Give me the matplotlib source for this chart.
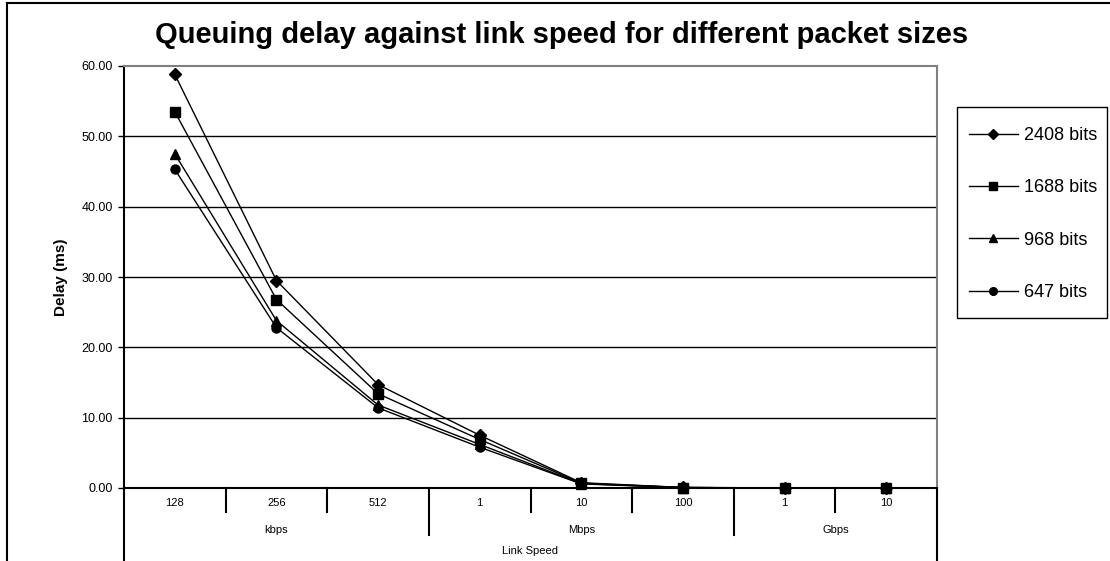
import matplotlib
matplotlib.use("Agg")
import matplotlib.pyplot as plt
from matplotlib.lines import Line2D
from matplotlib.patches import Rectangle
import matplotlib.transforms as mtransforms

plt.rcParams['font.family'] = ['Liberation Sans', 'DejaVu Sans']

categories = ["128", "256", "512", "1", "10", "100", "1", "10"]
groups = ["kbps", "Mbps", "Gbps"]
group_sizes = [3, 3, 2]
series_names = ["2408 bits", "1688 bits", "968 bits", "647 bits"]
s2408 = [58.8, 29.5, 14.7, 7.5, 0.75, 0.08, 0.01, 0.0]
s1688 = [53.5, 26.8, 13.4, 6.9, 0.69, 0.07, 0.01, 0.0]
s968 = [47.5, 23.8, 11.8, 6.2, 0.62, 0.06, 0.01, 0.0]
s647 = [45.3, 22.8, 11.4, 5.8, 0.58, 0.06, 0.01, 0.0]
yticks = [0, 10, 20, 30, 40, 50, 60]

W, H = 1110, 561
fig = plt.figure(figsize=(W / 100, H / 100), dpi=100)
ax = fig.add_axes([124 / W, 73 / H, (937 - 124) / W, (488 - 66) / H])

markers = ["D", "s", "^", "o"]
msizes = [6, 6.5, 7, 6.5]
for vals, name, m, ms in zip([s2408, s1688, s968, s647], series_names, markers, msizes):
    ax.plot(range(len(categories)), vals, color="black", lw=1.0, marker=m,
            markersize=ms, markerfacecolor="black", markeredgecolor="black",
            label=name, clip_on=False, zorder=3)

ax.set_xlim(-0.5, len(categories) - 0.5)
ax.set_ylim(0, 60)
ax.set_yticks(yticks)
ax.set_yticklabels([f"{v:.2f}" for v in yticks], fontsize=9)
ax.tick_params(axis="y", direction="out", length=4, width=1, pad=4)
ax.set_xticks([])
for y in yticks[1:-1]:
    ax.axhline(y, color="black", lw=1.0, zorder=1)
ax.spines["top"].set_color("#808080")
ax.spines["right"].set_color("#808080")
for s in ["left", "bottom", "top", "right"]:
    ax.spines[s].set_linewidth(1.5)

ax.set_ylabel("Delay (ms)", fontsize=11, fontweight="bold", labelpad=10)

trans = mtransforms.blended_transform_factory(ax.transData, ax.transAxes)
ah = 488 - 66
n = len(categories)
boundaries = []
acc = 0
for gs in group_sizes:
    acc += gs
    boundaries.append(acc)
for i in range(1, n):
    xb = i - 0.5
    depth = 47 if i in boundaries else 24
    ax.plot([xb, xb], [0, -depth / ah], transform=trans, color="black", lw=1.5, clip_on=False)
for xb in [-0.5, n - 0.5]:
    ax.plot([xb, xb], [0, -75 / ah], transform=trans, color="black", lw=1.5, clip_on=False)

for i, c in enumerate(categories):
    ax.text(i, -15 / ah, c, transform=trans, ha="center", va="center", fontsize=8)
start = 0
for g, gs in zip(groups, group_sizes):
    center = start + (gs - 1) / 2
    ax.text(center, -42 / ah, g, transform=trans, ha="center", va="center", fontsize=8)
    start += gs
ax.text((n - 1) / 2, -63 / ah, "Link Speed", transform=trans, ha="center", va="center", fontsize=8)

fig.text(562 / W, 1 - 43 / H, "Queuing delay against link speed for different packet sizes",
         ha="center", va="baseline", fontsize=21, fontweight="bold")

# legend box
fig.add_artist(Rectangle((957 / W, 1 - 318 / H), (1107 - 957) / W, (318 - 107) / H,
                         transform=fig.transFigure, facecolor="white", edgecolor="black", lw=1.0))
leg = fig.legend(loc="upper left", bbox_to_anchor=(969 / W, 1 - 127 / H),
                 bbox_transform=fig.transFigure, fontsize=13, frameon=False,
                 labelspacing=1.96, handlelength=2.7, handletextpad=0.32,
                 borderpad=0, borderaxespad=0, markerscale=0.85)

fig.add_artist(Line2D([7 / W, 7 / W], [0, 1 - 3 / H], color="black", lw=1.5, transform=fig.transFigure))
fig.add_artist(Line2D([7 / W, 1], [1 - 3 / H, 1 - 3 / H], color="black", lw=1.5, transform=fig.transFigure))

fig.savefig("out.png", dpi=100)
